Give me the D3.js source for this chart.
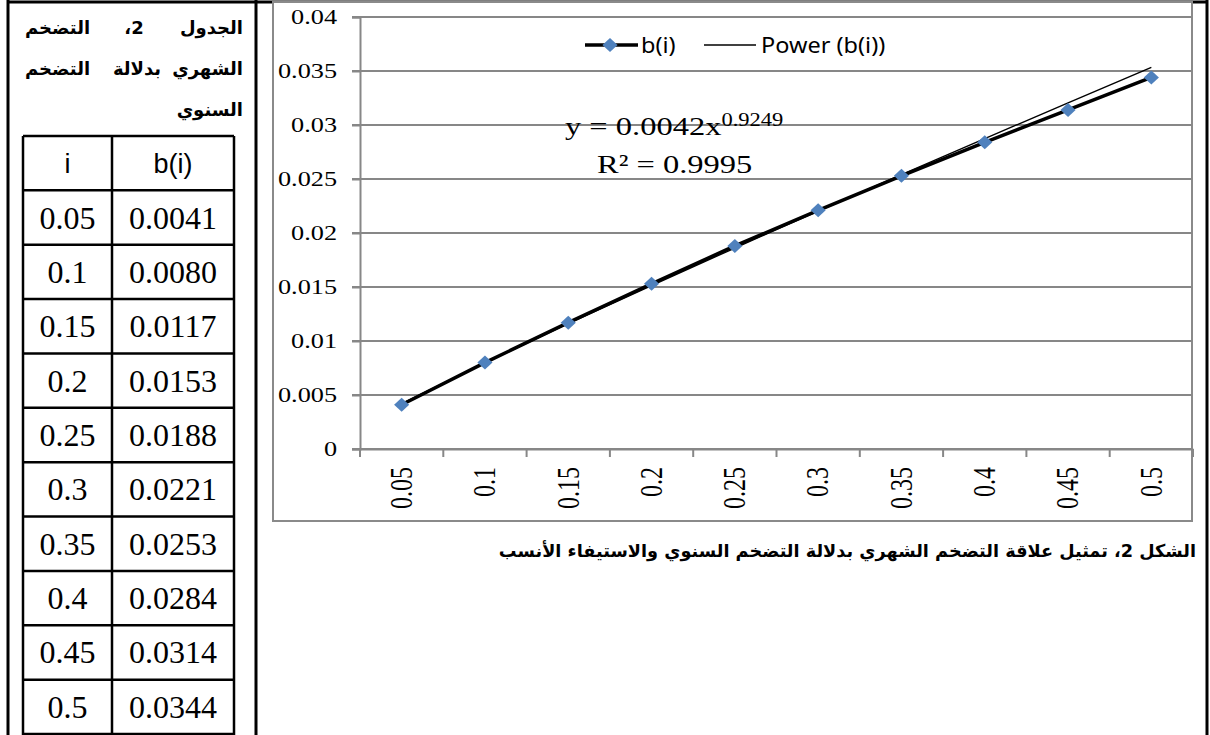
<!DOCTYPE html>
<head>
  <meta charset="utf-8">
  <script src="https://d3js.org/d3.v7.min.js"></script>
  <style>
    body { margin:0; background:#fff; }
    svg { display:block; }
  </style>
</head>
<body>
<script>
  // table / chart data
  var categories = ['0.05', '0.1', '0.15', '0.2', '0.25', '0.3', '0.35', '0.4', '0.45', '0.5'];
  var values = [0.0041, 0.0080, 0.0117, 0.0153, 0.0188, 0.0221, 0.0253, 0.0284, 0.0314, 0.0344];
  var tableValues = ['0.0041', '0.0080', '0.0117', '0.0153', '0.0188', '0.0221', '0.0253', '0.0284', '0.0314', '0.0344'];
  var yTicks = [0, 0.005, 0.01, 0.015, 0.02, 0.025, 0.03, 0.035, 0.04];
  var yTickLabels = ['0', '0.005', '0.01', '0.015', '0.02', '0.025', '0.03', '0.035', '0.04'];
  // power trendline coefficients, as printed on the chart
  var fitA = 0.0042, fitB = 0.9249;

  var W = 1210, H = 735;
  var svg = d3.select('body').append('svg').attr('width', W).attr('height', H);

  // page frame (word table)
  var frame = svg.append('g').attr('stroke', '#000').attr('stroke-width', 3);
  frame.append('line').attr('x1', 8).attr('x2', 1207).attr('y1', 2).attr('y2', 2);
  frame.append('line').attr('x1', 8).attr('x2', 8).attr('y1', 0).attr('y2', H);
  frame.append('line').attr('x1', 256).attr('x2', 256).attr('y1', 0).attr('y2', H);
  frame.append('line').attr('x1', 1207).attr('x2', 1207).attr('y1', 0).attr('y2', H);

  // arabic table title, justified by words
  var arab = 'DejaVu Sans, sans-serif';
  var title = svg.append('g').attr('font-family', arab)
    .attr('font-weight', 'bold').attr('font-size', 18).attr('direction', 'rtl');
  var titleWords = [
    {t: 'الجدول', x: 243, y: 34, a: 'start'}, {t: '2،', x: 134, y: 34, a: 'middle'}, {t: 'التضخم', x: 25, y: 34, a: 'end'},
    {t: 'الشهري', x: 243, y: 75, a: 'start'}, {t: 'بدلالة', x: 137, y: 75, a: 'middle'}, {t: 'التضخم', x: 25, y: 75, a: 'end'},
    {t: 'السنوي', x: 243, y: 116, a: 'start'}
  ];
  title.selectAll('text').data(titleWords).enter().append('text')
    .attr('x', function(d) { return d.x; }).attr('y', function(d) { return d.y; })
    .attr('text-anchor', function(d) { return d.a; })
    .text(function(d) { return d.t; });

  // inner table
  var rowY = d3.scaleBand().domain(d3.range(categories.length + 1)).range([136, 734]);
  var colX = [23, 112, 234];
  var tbl = svg.append('g');
  tbl.append('g').attr('stroke', '#000').attr('stroke-width', 2.5)
    .selectAll('line').data(d3.range(categories.length + 2)).enter().append('line')
    .attr('x1', colX[0]).attr('x2', colX[2])
    .attr('y1', function(d) { return d <= categories.length ? rowY(d) : 734; })
    .attr('y2', function(d) { return d <= categories.length ? rowY(d) : 734; });
  tbl.append('g').attr('stroke', '#000').attr('stroke-width', 2.5)
    .selectAll('line').data(colX).enter().append('line')
    .attr('x1', function(d) { return d; }).attr('x2', function(d) { return d; })
    .attr('y1', 136).attr('y2', 735);
  var head = tbl.append('g').attr('font-family', 'Liberation Sans, Arial, sans-serif').attr('font-size', 27)
    .attr('text-anchor', 'middle');
  head.append('text').attr('x', (colX[0] + colX[1]) / 2).attr('y', rowY(0) + rowY.bandwidth() / 2 + 10).text('i');
  head.append('text').attr('x', (colX[1] + colX[2]) / 2).attr('y', rowY(0) + rowY.bandwidth() / 2 + 10).text('b(i)');
  var rows = tbl.append('g').attr('font-family', 'Liberation Serif, Times New Roman, serif').attr('font-size', 32)
    .attr('text-anchor', 'middle')
    .selectAll('g').data(categories).enter().append('g')
    .attr('transform', function(d, i) { return 'translate(0,' + (rowY(i + 1) + rowY.bandwidth() / 2 + 11) + ')'; });
  rows.append('text').attr('x', (colX[0] + colX[1]) / 2).text(function(d) { return d; });
  rows.append('text').attr('x', (colX[1] + colX[2]) / 2).text(function(d, i) { return tableValues[i]; });

  // chart
  var sx = 1.3; // chart picture is stretched horizontally
  var chart = svg.append('g');
  chart.append('rect').attr('x', 273).attr('y', 2).attr('width', 919).attr('height', 519)
    .attr('fill', '#fff').attr('stroke', '#8a8a8a').attr('stroke-width', 2);

  var x = d3.scaleBand().domain(categories).range([360, 1193]);
  var y = d3.scaleLinear().domain([0, 0.04]).range([449, 17]);

  chart.append('g').selectAll('line').data(yTicks).enter().append('line')
    .attr('x1', 352).attr('x2', 1192)
    .attr('y1', function(d) { return y(d); }).attr('y2', function(d) { return y(d); })
    .attr('stroke', '#878787').attr('stroke-width', 2);

  var yAxis = chart.append('g').attr('transform', 'translate(360,0)')
    .call(d3.axisLeft(y).tickValues(yTicks).tickSize(8).tickFormat(function(d, i) { return yTickLabels[i]; }));
  yAxis.select('.domain').attr('stroke', '#878787').attr('stroke-width', 2);
  yAxis.selectAll('.tick line').attr('stroke', '#878787').attr('stroke-width', 2);
  yAxis.selectAll('.tick text').attr('font-family', 'Liberation Serif, Times New Roman, serif')
    .attr('font-size', 21).attr('fill', '#000').attr('x', -23 / 1.25).attr('dy', '0.33em')
    .attr('transform', 'scale(1.25,1)');

  var xAxis = chart.append('g').attr('transform', 'translate(0,' + y(0) + ')')
    .call(d3.axisBottom(x).tickSize(0));
  xAxis.select('.domain').attr('stroke', '#878787').attr('stroke-width', 2);
  xAxis.selectAll('.tick text').attr('font-family', 'Liberation Serif, Times New Roman, serif')
    .attr('font-size', 24).attr('fill', '#000').attr('text-anchor', 'end')
    .attr('x', 0).attr('y', 0).attr('dy', '0.33em')
    .attr('transform', 'translate(0,18) scale(' + sx + ',1) rotate(-90)');
  xAxis.append('g').selectAll('line').data(categories.concat([null])).enter().append('line')
    .attr('x1', function(d) { return d === null ? x.range()[1] : x(d); })
    .attr('x2', function(d) { return d === null ? x.range()[1] : x(d); })
    .attr('y1', 0).attr('y2', 8).attr('stroke', '#878787').attr('stroke-width', 2);

  var cx = function(d) { return x(d) + x.bandwidth() / 2; };

  // power trendline over category index 1..n
  var trend = categories.map(function(c, i) { return [cx(c), y(fitA * Math.pow(i + 1, fitB))]; });
  chart.append('path').attr('d', d3.line()(trend)).attr('fill', 'none')
    .attr('stroke', '#000').attr('stroke-width', 1.4);

  var line = d3.line().x(function(d, i) { return cx(categories[i]); }).y(function(d) { return y(d); });
  chart.append('path').datum(values).attr('d', line).attr('fill', 'none')
    .attr('stroke', '#000').attr('stroke-width', 3.5);

  var diamond = d3.symbol().type(d3.symbolSquare).size(98);
  chart.append('g').selectAll('path').data(values).enter().append('path')
    .attr('d', diamond).attr('fill', '#4f81bd')
    .attr('transform', function(d, i) { return 'translate(' + cx(categories[i]) + ',' + y(d) + ') scale(1.08,1) rotate(45)'; });

  // legend
  var lg = chart.append('g').attr('transform', 'translate(0,45)');
  lg.append('line').attr('x1', 585).attr('x2', 638).attr('stroke', '#000').attr('stroke-width', 3.5);
  lg.append('path').attr('d', diamond).attr('fill', '#4f81bd').attr('transform', 'translate(610,0) scale(1.08,1) rotate(45)');
  lg.append('line').attr('x1', 704).attr('x2', 756).attr('stroke', '#000').attr('stroke-width', 1.4);
  var lgText = lg.append('g').attr('font-family', 'Noto Sans, sans-serif').attr('font-size', 21).attr('fill', '#000');
  lgText.append('text').attr('transform', 'translate(641,8) scale(1.12,1)').text('b(i)');
  lgText.append('text').attr('transform', 'translate(761,8) scale(1.12,1)').text('Power (b(i))');

  // trendline equation
  var eq = chart.append('g').attr('font-family', 'Liberation Serif, Times New Roman, serif').attr('fill', '#000');
  var eq1 = eq.append('text').attr('transform', 'translate(565,135) scale(1.25,1)').attr('font-size', 26);
  eq1.append('tspan').text('y = ' + fitA + 'x');
  eq1.append('tspan').attr('font-size', 18).attr('dy', -9).text(fitB);
  eq.append('text').attr('transform', 'translate(597,173) scale(1.25,1)').attr('font-size', 26)
    .text('R² = 0.9995');

  // caption
  svg.append('text').attr('x', 1196).attr('y', 557).attr('direction', 'rtl').attr('text-anchor', 'start')
    .attr('font-family', arab).attr('font-weight', 'bold').attr('font-size', 17.7)
    .text('الشكل 2، تمثيل علاقة التضخم الشهري بدلالة التضخم السنوي والاستيفاء الأنسب');
</script>
</body>
